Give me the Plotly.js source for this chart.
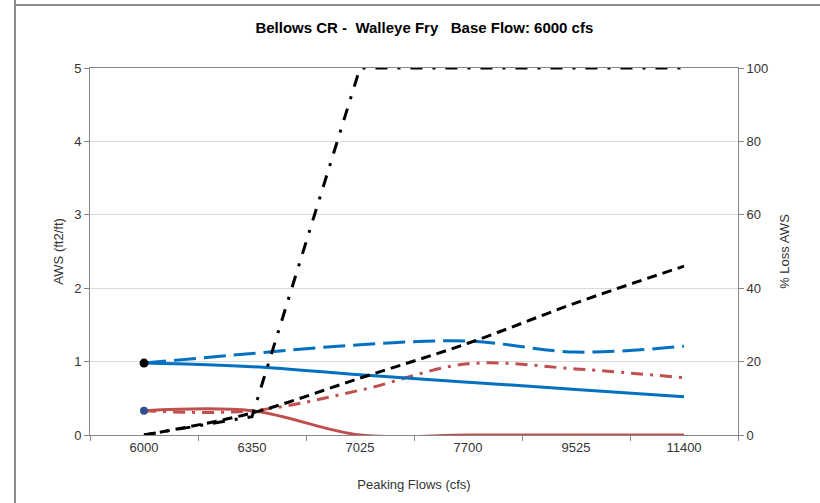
<!DOCTYPE html>
<html>
<head>
<meta charset="utf-8">
<script src="https://cdn.plot.ly/plotly-3.0.1.min.js"></script>
<style>html,body{margin:0;padding:0;background:#fff;}#chart{width:820px;height:503px;}</style>
</head>
<body>
<div id="chart"></div>
<script>
var categories = ['6000', '6350', '7025', '7700', '9525', '11400'];
var awsBlueSolid = [0.98, 0.93, 0.82, 0.72, 0.62, 0.52];
var awsBlueDashed = [0.98, 1.11, 1.23, 1.28, 1.13, 1.21];
var awsRedSolid = [0.33, 0.33, 0.0, 0.0, 0.0, 0.0];
var awsRedDashDot = [0.33, 0.33, 0.61, 0.97, 0.90, 0.78];
var lossDashed = [0, 6, 15.5, 25, 36, 46];
var lossDashDot = [0, 5, 100, 100, 100, 100];
var baseBlack = [0.98];
var baseNavy = [0.33];

var font = 'Liberation Sans, Arial, sans-serif';

function line(y, color, dash, axis, shape) {
  return {
    x: categories, y: y, type: 'scatter', mode: 'lines',
    line: {color: color, width: 3, dash: dash, shape: shape || 'spline', smoothing: 1},
    yaxis: axis || 'y', hoverinfo: 'skip', showlegend: false
  };
}

var data = [
  line(awsRedSolid, '#C0504D', 'solid'),
  line(awsRedDashDot, '#C0504D', '12px,7px,3px,7px'),
  line(awsBlueSolid, '#0070C0', 'solid'),
  line(awsBlueDashed, '#0070C0', '22px,8px'),
  line(lossDashed, '#000000', '10px,6px', 'y2'),
  line(lossDashDot, '#000000', '12px,10px,3px,10px', 'y2', 'linear'),
  {x: [categories[0]], y: baseBlack, type: 'scatter', mode: 'markers',
   marker: {color: '#000000', size: 9}, showlegend: false, hoverinfo: 'skip'},
  {x: [categories[0]], y: baseNavy, type: 'scatter', mode: 'markers',
   marker: {color: '#2F4F8F', size: 8}, showlegend: false, hoverinfo: 'skip'}
];

var W = 648, H = 367, L = 90, T = 68;
var tf = {family: font, size: 13, color: '#333333'};
var layout = {
  width: 820, height: 503,
  margin: {l: L, r: 820 - L - W, t: T, b: 503 - T - H},
  paper_bgcolor: '#ffffff', plot_bgcolor: '#ffffff',
  font: {family: font, size: 13, color: '#333333'},
  showlegend: false,
  title: {text: 'Bellows CR -&nbsp;&nbsp;Walleye Fry&nbsp;&nbsp;&nbsp;Base Flow: 6000 cfs',
          font: {family: font, size: 15, color: '#000000', weight: 'bold'},
          x: 0.516, xref: 'paper', xanchor: 'center', y: 1 - 28/503, yanchor: 'middle'},
  xaxis: {
    type: 'category', range: [-0.5, 5.5], tickson: 'boundaries',
    ticks: 'outside', ticklen: 5, tickcolor: '#868686',
    showline: true, linecolor: '#868686', linewidth: 1, mirror: true,
    showgrid: false, zeroline: false,
    tickfont: tf,
    title: {text: 'Peaking Flows (cfs)', font: tf, standoff: 26}
  },
  yaxis: {
    range: [0, 5], dtick: 1, tick0: 0,
    ticks: 'outside', ticklen: 5, tickcolor: '#868686',
    showline: true, linecolor: '#868686', linewidth: 1,
    showgrid: true, gridcolor: '#D9D9D9', zeroline: false,
    tickfont: tf,
    title: {text: 'AWS (ft2/ft)', font: tf, standoff: 7}
  },
  yaxis2: {
    range: [0, 100], dtick: 20, tick0: 0, overlaying: 'y', side: 'right',
    ticks: 'outside', ticklen: 5, tickcolor: '#868686',
    showline: true, linecolor: '#868686', linewidth: 1,
    showgrid: false, zeroline: false,
    tickfont: tf,
    title: {text: '% Loss AWS', font: tf, standoff: 12}
  },
  shapes: [
    {type: 'line', xref: 'paper', yref: 'paper',
     x0: (15 - L) / W, x1: (15 - L) / W, y0: 1 + T / H, y1: -1,
     line: {color: '#8C8C8C', width: 2}, layer: 'above'},
    {type: 'line', xref: 'paper', yref: 'paper',
     x0: (15 - L) / W, x1: 2, y0: 1 + (T - 5) / H, y1: 1 + (T - 5) / H,
     line: {color: '#8C8C8C', width: 2}, layer: 'above'}
  ]
};

Plotly.newPlot('chart', data, layout, {staticPlot: true, displayModeBar: false});
</script>
</body>
</html>
